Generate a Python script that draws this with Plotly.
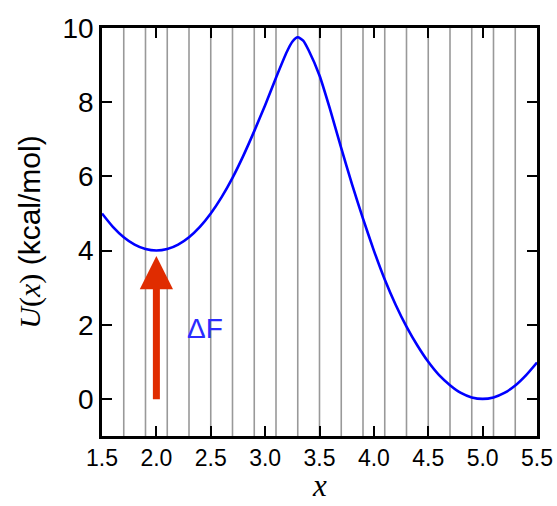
import plotly.graph_objects as go

# Potential energy profile U(x) along the coordinate x (kcal/mol)
x_vals = [1.5, 1.6, 1.7, 1.8, 1.9, 2.0, 2.1, 2.2, 2.3, 2.4,
          2.5, 2.6, 2.7, 2.8, 2.9, 3.0, 3.1, 3.2, 3.25, 3.3, 3.35, 3.4,
          3.5, 3.6, 3.7, 3.8, 3.9, 4.0, 4.1, 4.2, 4.3, 4.4,
          4.5, 4.6, 4.7, 4.8, 4.9, 5.0, 5.1, 5.2, 5.3, 5.4, 5.5]
u_vals = [5.00, 4.64, 4.36, 4.16, 4.04, 4.00, 4.04, 4.16, 4.36, 4.64,
          5.00, 5.44, 5.96, 6.56, 7.22, 7.92, 8.66, 9.36, 9.63, 9.75, 9.66, 9.40,
          8.72, 7.78, 6.76, 5.78, 4.86, 4.00, 3.22, 2.54, 1.95, 1.44,
          1.00, 0.64, 0.37, 0.16, 0.04, 0.00, 0.04, 0.16, 0.36, 0.64, 0.98]

# Window boundaries (vertical lines)
window_x = [1.7, 1.9, 2.1, 2.3, 2.5, 2.7, 2.9, 3.1, 3.3, 3.5,
            3.7, 3.9, 4.1, 4.3, 4.5, 4.7, 4.9, 5.1, 5.3]

x_ticks = [1.5, 2.0, 2.5, 3.0, 3.5, 4.0, 4.5, 5.0, 5.5]
x_ticktext = ["1.5", "2.0", "2.5", "3.0", "3.5", "4.0", "4.5", "5.0", "5.5"]
y_ticks = [0, 2, 4, 6, 8, 10]

# Free-energy arrow from the reference level up to the left minimum
arrow_x = 2.0
arrow_from = -0.05
arrow_to = 3.85
label_x, label_y = 2.45, 1.9

fig = go.Figure()

for gx in window_x:
    fig.add_vline(x=gx, line=dict(color="#999999", width=1.6), layer="below")

fig.add_trace(go.Scatter(
    x=x_vals, y=u_vals, mode="lines",
    line=dict(color="#0000ff", width=2.6, shape="spline", smoothing=0.6),
    showlegend=False, hoverinfo="skip",
))

fig.add_annotation(
    x=arrow_x, y=arrow_to, ax=arrow_x, ay=arrow_from,
    xref="x", yref="y", axref="x", ayref="y",
    text="", showarrow=True, arrowhead=2, arrowsize=0.95,
    arrowwidth=7, arrowcolor="#e02c00", standoff=0,
)

fig.add_annotation(
    x=label_x, y=label_y, xref="x", yref="y", text="ΔF", showarrow=False,
    font=dict(family="Liberation Sans, Arial, sans-serif", size=28, color="#2b2bff"),
)

# x-axis title placed below the tick labels, kept inside the page
fig.add_annotation(
    x=0.5, y=-0.168, xref="paper", yref="paper", text="<i>x</i>",
    showarrow=False, xanchor="center", yanchor="bottom",
    font=dict(family="Liberation Serif, Times New Roman, serif", size=31, color="black"),
)

axis_common = dict(
    showline=True, linecolor="black", linewidth=2.5, mirror="allticks",
    ticks="inside", ticklen=10, tickwidth=1.5, tickcolor="black",
    showgrid=False, zeroline=False, automargin=False,
)

fig.update_xaxes(
    range=[1.5, 5.5], tickvals=x_ticks, ticktext=x_ticktext,
    tickfont=dict(family="Liberation Sans, Arial, sans-serif", size=23, color="black"),
    **axis_common,
)
fig.update_yaxes(
    range=[-1, 10], tickvals=y_ticks,
    tickfont=dict(family="Liberation Sans, Arial, sans-serif", size=28, color="black"),
    title=dict(
        text="<span style='font-family:Liberation Serif'><i>U</i>(<i>x</i>)</span> (kcal/mol)",
        standoff=13,
        font=dict(family="Liberation Sans, Arial, sans-serif", size=30, color="black"),
    ),
    **axis_common,
)

fig.update_layout(
    width=557, height=506,
    margin=dict(l=102, r=20, t=28, b=70),
    paper_bgcolor="white", plot_bgcolor="white",
)

fig.write_html("out.html")
